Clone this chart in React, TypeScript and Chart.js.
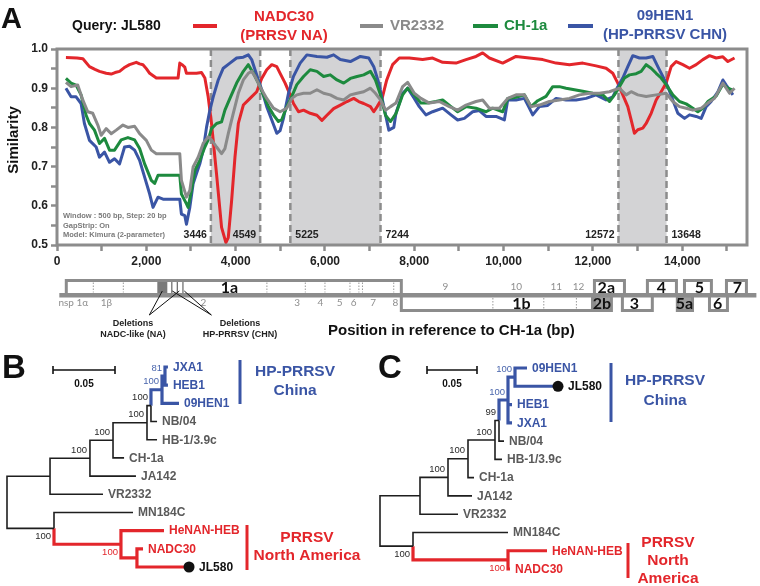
import React, { useEffect, useRef } from "react";
import { Chart, registerables } from "chart.js";

Chart.register(...registerables);

type Pt = [number, number];

// ---------------- Panel A: similarity plot data (position bp, similarity) ----------------
const NADC30_SIM: Pt[] = [
  [200, 0.978], [450, 0.977], [580, 0.975], [727, 0.955], [850, 0.948], [951, 0.943], [1101, 0.938], [1213, 0.936],
  [1300, 0.94], [1401, 0.943], [1500, 0.952], [1625, 0.96], [1775, 0.966], [1850, 0.962], [1925, 0.96], [2000, 0.95],
  [2075, 0.938], [2224, 0.926], [2711, 0.926], [2749, 0.964], [2800, 0.96], [2861, 0.954], [2899, 0.938], [3123, 0.938],
  [3236, 0.94], [3311, 0.926], [3385, 0.878], [3460, 0.81], [3573, 0.68], [3685, 0.545], [3782, 0.506], [3835, 0.519],
  [3910, 0.613], [3985, 0.724], [4060, 0.81], [4172, 0.857], [4322, 0.874], [4472, 0.891], [4584, 0.925], [4696, 0.947],
  [4809, 0.96], [4921, 0.955], [4996, 0.938], [5108, 0.913], [5221, 0.883], [5295, 0.861], [5408, 0.84], [5520, 0.844],
  [5670, 0.836], [5820, 0.831], [5932, 0.818], [6044, 0.831], [6194, 0.848], [6344, 0.857], [6494, 0.866], [6644, 0.874],
  [6756, 0.866], [6868, 0.861], [7018, 0.853], [7093, 0.84], [7168, 0.853], [7280, 0.874], [7380, 0.92], [7440, 0.938],
  [7514, 0.96], [7664, 0.977], [7888, 0.977], [8187, 0.973], [8411, 0.977], [8635, 0.966], [8934, 0.964], [9158, 0.973],
  [9382, 0.981], [9531, 0.99], [9681, 0.977], [9980, 0.964], [10278, 0.981], [10577, 0.977], [10876, 0.973], [11175, 0.964],
  [11474, 0.96], [11773, 0.964], [12071, 0.957], [12295, 0.951], [12445, 0.938], [12557, 0.913], [12669, 0.883], [12781, 0.853],
  [12856, 0.819], [12930, 0.785], [13005, 0.794], [13117, 0.798], [13192, 0.81], [13304, 0.836], [13416, 0.87], [13528, 0.891],
  [13640, 0.913], [13752, 0.955], [13864, 0.968], [14013, 0.96], [14163, 0.951], [14312, 0.96], [14462, 0.973], [14611, 0.983],
  [14760, 0.977], [14910, 0.98], [15022, 0.968], [15171, 0.977],
];

const VR2332_SIM: Pt[] = [
  [200, 0.915], [315, 0.904], [464, 0.908], [577, 0.87], [689, 0.84], [801, 0.836], [914, 0.806], [989, 0.78],
  [1101, 0.797], [1213, 0.784], [1326, 0.793], [1476, 0.806], [1588, 0.8], [1738, 0.803], [1850, 0.784], [2000, 0.767],
  [2112, 0.742], [2224, 0.733], [2749, 0.733], [2786, 0.665], [2899, 0.622], [2974, 0.639], [3048, 0.699], [3161, 0.724],
  [3273, 0.759], [3385, 0.776], [3460, 0.768], [3573, 0.75], [3685, 0.733], [3760, 0.746], [3835, 0.784], [3947, 0.836],
  [4060, 0.887], [4172, 0.921], [4284, 0.938], [4359, 0.943], [4434, 0.93], [4546, 0.904], [4696, 0.874], [4846, 0.849],
  [4996, 0.84], [5146, 0.849], [5258, 0.874], [5370, 0.883], [5520, 0.887], [5670, 0.887], [5820, 0.896], [5970, 0.887],
  [6119, 0.883], [6269, 0.874], [6419, 0.87], [6569, 0.883], [6719, 0.887], [6868, 0.891], [7018, 0.9], [7130, 0.887],
  [7243, 0.87], [7355, 0.844], [7468, 0.853], [7589, 0.862], [7739, 0.904], [7851, 0.915], [8000, 0.887], [8149, 0.874],
  [8336, 0.862], [8560, 0.866], [8784, 0.853], [8971, 0.844], [9158, 0.857], [9382, 0.866], [9531, 0.87], [9681, 0.849],
  [9905, 0.849], [10092, 0.874], [10278, 0.883], [10465, 0.883], [10615, 0.853], [10801, 0.857], [11025, 0.866], [11250, 0.87],
  [11474, 0.874], [11698, 0.883], [11922, 0.887], [12146, 0.887], [12370, 0.891], [12594, 0.9], [12744, 0.883], [12856, 0.891],
  [13005, 0.883], [13192, 0.879], [13416, 0.883], [13640, 0.887], [13789, 0.866], [13938, 0.853], [14088, 0.849], [14237, 0.844],
  [14424, 0.849], [14573, 0.862], [14723, 0.874], [14910, 0.913], [15059, 0.887], [15171, 0.9],
];

const CH1A_SIM: Pt[] = [
  [200, 0.925], [315, 0.913], [427, 0.908], [539, 0.883], [652, 0.831], [727, 0.81], [839, 0.793], [951, 0.759],
  [1064, 0.772], [1176, 0.742], [1288, 0.742], [1438, 0.768], [1588, 0.774], [1738, 0.768], [1850, 0.746], [1962, 0.707],
  [2112, 0.665], [2187, 0.657], [2262, 0.678], [2749, 0.678], [2786, 0.63], [2899, 0.605], [2936, 0.596], [3011, 0.64],
  [3086, 0.69], [3198, 0.716], [3311, 0.75], [3385, 0.768], [3460, 0.797], [3573, 0.81], [3685, 0.814], [3760, 0.844],
  [3872, 0.874], [4022, 0.913], [4172, 0.943], [4284, 0.96], [4397, 0.938], [4509, 0.913], [4621, 0.883], [4734, 0.853],
  [4846, 0.832], [4958, 0.815], [5033, 0.82], [5146, 0.853], [5258, 0.879], [5370, 0.909], [5520, 0.93], [5670, 0.947],
  [5820, 0.943], [5970, 0.93], [6119, 0.934], [6269, 0.921], [6419, 0.913], [6569, 0.925], [6719, 0.93], [6868, 0.934],
  [7018, 0.943], [7130, 0.921], [7243, 0.883], [7355, 0.831], [7468, 0.815], [7589, 0.835], [7739, 0.883], [7851, 0.9],
  [8000, 0.883], [8149, 0.862], [8299, 0.862], [8486, 0.866], [8635, 0.87], [8822, 0.853], [8971, 0.84], [9158, 0.853],
  [9382, 0.849], [9606, 0.84], [9755, 0.849], [9980, 0.84], [10092, 0.874], [10278, 0.877], [10465, 0.883], [10615, 0.853],
  [10764, 0.868], [10950, 0.879], [11100, 0.904], [11250, 0.904], [11399, 0.9], [11586, 0.896], [11773, 0.892], [11997, 0.887],
  [12221, 0.883], [12370, 0.866], [12482, 0.883], [12594, 0.904], [12706, 0.926], [12819, 0.934], [12968, 0.937], [13080, 0.943],
  [13192, 0.96], [13304, 0.951], [13416, 0.938], [13528, 0.926], [13640, 0.909], [13789, 0.883], [13938, 0.866], [14088, 0.86],
  [14237, 0.849], [14349, 0.84], [14461, 0.849], [14573, 0.866], [14760, 0.88], [14910, 0.91], [15022, 0.9], [15134, 0.895],
];

const HEN1_SIM: Pt[] = [
  [200, 0.9], [315, 0.878], [427, 0.878], [539, 0.861], [614, 0.81], [727, 0.767], [876, 0.75], [951, 0.724],
  [1064, 0.737], [1176, 0.711], [1288, 0.72], [1401, 0.707], [1513, 0.75], [1625, 0.752], [1738, 0.742], [1850, 0.716],
  [1962, 0.673], [2075, 0.63], [2150, 0.596], [2262, 0.622], [2374, 0.617], [2749, 0.617], [2786, 0.579], [2861, 0.575],
  [2899, 0.553], [2974, 0.596], [3048, 0.656], [3123, 0.682], [3198, 0.707], [3273, 0.742], [3348, 0.8], [3423, 0.844],
  [3498, 0.878], [3610, 0.921], [3723, 0.951], [3872, 0.964], [4022, 0.977], [4172, 0.979], [4284, 0.985], [4359, 0.973],
  [4434, 0.947], [4509, 0.921], [4584, 0.896], [4696, 0.853], [4809, 0.819], [4921, 0.785], [4996, 0.792], [5071, 0.823],
  [5183, 0.887], [5295, 0.93], [5445, 0.964], [5595, 0.985], [5820, 0.981], [6044, 0.979], [6194, 0.985], [6344, 0.973],
  [6569, 0.968], [6793, 0.981], [6981, 0.977], [7093, 0.955], [7205, 0.913], [7318, 0.853], [7430, 0.793], [7542, 0.8],
  [7589, 0.836], [7739, 0.887], [7851, 0.9], [8000, 0.874], [8112, 0.853], [8261, 0.832], [8411, 0.84], [8635, 0.849],
  [8822, 0.832], [8971, 0.819], [9121, 0.823], [9307, 0.84], [9457, 0.843], [9606, 0.828], [9830, 0.828], [10017, 0.819],
  [10092, 0.87], [10278, 0.87], [10465, 0.874], [10577, 0.849], [10652, 0.832], [10801, 0.853], [10988, 0.856], [11175, 0.874],
  [11399, 0.87], [11623, 0.87], [11847, 0.874], [12071, 0.883], [12295, 0.87], [12445, 0.878], [12557, 0.904], [12669, 0.926],
  [12781, 0.955], [12893, 0.983], [13042, 0.977], [13192, 0.977], [13341, 0.981], [13453, 0.955], [13565, 0.93], [13677, 0.904],
  [13789, 0.87], [13901, 0.836], [14051, 0.823], [14163, 0.832], [14312, 0.828], [14424, 0.823], [14536, 0.853], [14648, 0.866],
  [14798, 0.891], [14910, 0.921], [14984, 0.908], [15059, 0.896], [15134, 0.883],
];

const X_TICKS = [0, 1000, 2000, 3000, 4000, 5000, 6000, 7000, 8000, 9000, 10000, 11000, 12000, 13000, 14000, 15000];
const Y_TICKS = [0.5, 0.55, 0.6, 0.65, 0.7, 0.75, 0.8, 0.85, 0.9, 0.95, 1.0];
const BREAKPOINTS = [3446, 4549, 5225, 7244, 12572, 13648];
const BREAK_LABEL_LEFT = [true, true, false, false, true, false];
const SHADED_REGIONS: Pt[] = [[3446, 4549], [5225, 7244], [12572, 13648]];
const ANNOTATION = ["Window : 500 bp, Step: 20 bp", "GapStrip: On", "Model: Kimura (2-parameter)"];

// ---------------- Genome map (positions in nt, drawn through the x scale) ----------------
const GENOME_SPAN: Pt = [52, 15660];
const ORF_NAMES = ["1a", "1b", "2a", "2b", "3", "4", "5a", "5", "6", "7"];
const ORF_START = [208, 7710, 12034, 12034, 12660, 13220, 13890, 14050, 14610, 14990];
const ORF_END = [7710, 11990, 12706, 12414, 13330, 13870, 14230, 14653, 15012, 15437];
const ORF_LABEL_AT = [3860, 10400, 12300, 12200, 12930, 13534, 14050, 14385, 14790, 15236];
const ORF_ABOVE = [true, false, true, false, false, true, false, true, false, true];
const ORF_FILLED = [false, false, false, true, false, false, true, false, false, false];
const NSP_DIVIDERS_1A = [813, 1485, 4700, 5560, 6000, 6560, 6760, 6840, 7540];
const NSP_DIVIDERS_1B = [9760, 10900, 11630];
const DELETION_BLOCK: Pt = [2246, 2470];
const DELETION_LINES = [2571, 2694, 2820];
const NSP_LABELS_BELOW = ["nsp 1α", "1β", "2", "3", "4", "5", "6", "7", "8"];
const NSP_BELOW_AT = [365, 1105, 3276, 5380, 5900, 6330, 6640, 7080, 7575];
const NSP_LABELS_ABOVE = ["9", "10", "11", "12"];
const NSP_ABOVE_AT = [8696, 10286, 11180, 11676];
const DEL_NA_TARGETS = [2358, 2739];
const DEL_CHN_TARGETS = [2582, 2851];
const DEL_NA_APEX = 2068;
const DEL_CHN_APEX = 3457;

// ---------------- Trees ----------------
type TreeNode = {
  id: string;
  parent: string | null;
  dist: number;
  row?: number;
  branch: "k" | "b" | "r";
  support?: string;
  supportBelow?: boolean;
  labelColor?: string;
  dot?: boolean;
};

const TREE_B_NODES: TreeNode[] = [
  { id: "rB", parent: null, dist: 0, branch: "k" },
  { id: "bA", parent: "rB", dist: 0.0347, branch: "k" },
  { id: "bB", parent: "bA", dist: 0.0669, branch: "k", support: "100" },
  { id: "bC", parent: "bB", dist: 0.0855, branch: "k", support: "100" },
  { id: "bD", parent: "bC", dist: 0.1129, branch: "k", support: "100" },
  { id: "bE", parent: "bD", dist: 0.1161, branch: "k", support: "100" },
  { id: "bF", parent: "bE", dist: 0.125, branch: "b", support: "100" },
  { id: "bG", parent: "bF", dist: 0.1274, branch: "b", support: "81" },
  { id: "bM", parent: "rB", dist: 0.0379, branch: "k", support: "100", supportBelow: true },
  { id: "bN", parent: "bM", dist: 0.0919, branch: "r", support: "100", supportBelow: true },
  { id: "bO", parent: "bN", dist: 0.1048, branch: "r" },
  { id: "JXA1", parent: "bG", dist: 0.1298, row: 0, branch: "b" },
  { id: "HEB1", parent: "bG", dist: 0.1298, row: 1, branch: "b" },
  { id: "09HEN1", parent: "bF", dist: 0.1387, row: 2, branch: "b" },
  { id: "NB/04", parent: "bE", dist: 0.121, row: 3, branch: "k" },
  { id: "HB-1/3.9c", parent: "bD", dist: 0.121, row: 4, branch: "k" },
  { id: "CH-1a", parent: "bC", dist: 0.0944, row: 5, branch: "k" },
  { id: "JA142", parent: "bB", dist: 0.104, row: 6, branch: "k" },
  { id: "VR2332", parent: "bA", dist: 0.0774, row: 7, branch: "k" },
  { id: "MN184C", parent: "bM", dist: 0.1016, row: 8, branch: "k" },
  { id: "HeNAN-HEB", parent: "bN", dist: 0.1266, row: 9, branch: "r" },
  { id: "NADC30", parent: "bO", dist: 0.1097, row: 10, branch: "r" },
  { id: "JL580", parent: "bO", dist: 0.1468, row: 11, branch: "r", labelColor: "#111", dot: true },
];

const TREE_C_NODES: TreeNode[] = [
  { id: "rC", parent: null, dist: 0, branch: "k" },
  { id: "cA", parent: "rC", dist: 0.04, branch: "k" },
  { id: "cB", parent: "cA", dist: 0.068, branch: "k", support: "100" },
  { id: "cC", parent: "cB", dist: 0.088, branch: "k", support: "100" },
  { id: "cD", parent: "cC", dist: 0.115, branch: "k", support: "100" },
  { id: "cE", parent: "cD", dist: 0.119, branch: "k", support: "99" },
  { id: "cF", parent: "cE", dist: 0.128, branch: "b", support: "100" },
  { id: "cG", parent: "cF", dist: 0.135, branch: "b", support: "100" },
  { id: "cM", parent: "rC", dist: 0.033, branch: "k", support: "100", supportBelow: true },
  { id: "cN", parent: "cM", dist: 0.128, branch: "r", support: "100", supportBelow: true },
  { id: "09HEN1", parent: "cG", dist: 0.147, row: 0, branch: "b" },
  { id: "JL580", parent: "cG", dist: 0.178, row: 1, branch: "b", labelColor: "#111", dot: true },
  { id: "HEB1", parent: "cF", dist: 0.132, row: 2, branch: "b" },
  { id: "JXA1", parent: "cF", dist: 0.132, row: 3, branch: "b" },
  { id: "NB/04", parent: "cE", dist: 0.124, row: 4, branch: "k" },
  { id: "HB-1/3.9c", parent: "cD", dist: 0.122, row: 5, branch: "k" },
  { id: "CH-1a", parent: "cC", dist: 0.094, row: 6, branch: "k" },
  { id: "JA142", parent: "cB", dist: 0.092, row: 7, branch: "k" },
  { id: "VR2332", parent: "cA", dist: 0.078, row: 8, branch: "k" },
  { id: "MN184C", parent: "cM", dist: 0.128, row: 9, branch: "k" },
  { id: "HeNAN-HEB", parent: "cN", dist: 0.167, row: 10, branch: "r" },
  { id: "NADC30", parent: "cN", dist: 0.13, row: 11, branch: "r" },
];

const SCALE_BAR_LEN = 0.05;

// ---------------- Styles ----------------
const FONT = "'Liberation Sans', Arial, Helvetica, sans-serif";
const RED = "#e3262b";
const BLUE = "#3a55a5";
const GREEN = "#1d8a3e";
const GRAY = "#8a8a8a";
const FRAME = "#8c8c8c";
const SHADE = "#d3d3d5";
const TIP_GRAY = "#5a5a5a";
const BRANCH_COLORS: Record<string, string> = { k: "#1e1e1e", b: BLUE, r: RED };

function text(ctx: CanvasRenderingContext2D, s: string, x: number, y: number, font: string, color: string, align: CanvasTextAlign = "left", baseline: CanvasTextBaseline = "middle") {
  ctx.font = font;
  ctx.fillStyle = color;
  ctx.textAlign = align;
  ctx.textBaseline = baseline;
  ctx.fillText(s, x, y);
}

function line(ctx: CanvasRenderingContext2D, x1: number, y1: number, x2: number, y2: number) {
  ctx.beginPath();
  ctx.moveTo(x1, y1);
  ctx.lineTo(x2, y2);
  ctx.stroke();
}

const panelAPlugin = {
  id: "panelA",
  beforeDatasetsDraw(chart: any) {
    const { ctx, chartArea: ca } = chart;
    const X = (v: number) => chart.scales.x.getPixelForValue(v);
    ctx.save();
    ctx.fillStyle = SHADE;
    for (const [a, b] of SHADED_REGIONS) ctx.fillRect(X(a), ca.top, X(b) - X(a), ca.bottom - ca.top);
    ctx.strokeStyle = FRAME;
    ctx.lineWidth = 2.5;
    ctx.setLineDash([7, 4]);
    for (const bp of BREAKPOINTS) line(ctx, X(bp), ca.top, X(bp), ca.bottom);
    ctx.setLineDash([]);
    BREAKPOINTS.forEach((bp, i) => {
      const left = BREAK_LABEL_LEFT[i];
      text(ctx, String(bp), X(bp) + (left ? -4 : 5), ca.bottom - 10, `bold 10.5px ${FONT}`, "#222", left ? "right" : "left");
    });
    ANNOTATION.forEach((s, i) => text(ctx, s, ca.left + 6, ca.bottom - 29 + i * 9.5, `bold 7.5px ${FONT}`, "#7a7a7a"));
    ctx.restore();
  },
  afterDraw(chart: any) {
    const { ctx, chartArea: ca } = chart;
    const X = (v: number) => chart.scales.x.getPixelForValue(v);
    ctx.save();
    // frame
    ctx.strokeStyle = FRAME;
    ctx.lineWidth = 3;
    ctx.strokeRect(ca.left, ca.top, ca.right - ca.left, ca.bottom - ca.top);

    // panel letter and header
    text(ctx, "A", 1, 28, `bold 29px ${FONT}`, "#111", "left", "alphabetic");
    text(ctx, "Query: JL580", 72, 26, `bold 14px ${FONT}`, "#111");
    const legend = [
      { c: RED, x1: 193, x2: 217, lines: ["NADC30", "(PRRSV NA)"], tx: 284, ys: [17, 36], align: "center" },
      { c: GRAY, x1: 360, x2: 383, lines: ["VR2332"], tx: 390, ys: [26], align: "left" },
      { c: GREEN, x1: 473, x2: 498, lines: ["CH-1a"], tx: 504, ys: [26], align: "left" },
      { c: BLUE, x1: 568, x2: 593, lines: ["09HEN1", "(HP-PRRSV CHN)"], tx: 665, ys: [16, 35], align: "center" },
    ];
    for (const it of legend) {
      ctx.strokeStyle = it.c;
      ctx.lineWidth = 4;
      line(ctx, it.x1, 26, it.x2, 26);
      it.lines.forEach((s, i) => text(ctx, s, it.tx, it.ys[i], `bold 15px ${FONT}`, it.c, it.align as CanvasTextAlign));
    }

    // y title
    ctx.save();
    ctx.translate(14, 140);
    ctx.rotate(-Math.PI / 2);
    text(ctx, "Similarity", 0, 0, `bold 15px ${FONT}`, "#111", "center");
    ctx.restore();

    // genome map
    const lineTop = 293;
    const lineH = 4.5;
    ctx.lineWidth = 3;
    ctx.strokeStyle = FRAME;
    ORF_NAMES.forEach((_, i) => {
      const x1 = X(ORF_START[i]);
      const x2 = X(ORF_END[i]);
      const y0 = ORF_ABOVE[i] ? 280.5 : 295;
      const h = ORF_ABOVE[i] ? 14.5 : 15.5;
      ctx.fillStyle = ORF_FILLED[i] ? "#9d9d9d" : "#fff";
      ctx.fillRect(x1, y0, x2 - x1, h);
      ctx.strokeRect(x1, y0, x2 - x1, h);
    });
    ctx.strokeStyle = "#9a9a9a";
    ctx.lineWidth = 1;
    ctx.setLineDash([1.5, 1.5]);
    for (const nt of NSP_DIVIDERS_1A) line(ctx, X(nt), 282.5, X(nt), 292.5);
    for (const nt of NSP_DIVIDERS_1B) line(ctx, X(nt), 298, X(nt), 308.5);
    ctx.setLineDash([]);
    ctx.fillStyle = "#7a7a7a";
    ctx.fillRect(X(DELETION_BLOCK[0]), 282, X(DELETION_BLOCK[1]) - X(DELETION_BLOCK[0]), 11);
    ctx.strokeStyle = "#666";
    ctx.lineWidth = 1.2;
    for (const nt of DELETION_LINES) line(ctx, X(nt), 282, X(nt), 293);
    ctx.fillStyle = FRAME;
    ctx.fillRect(X(GENOME_SPAN[0]), lineTop, X(GENOME_SPAN[1]) - X(GENOME_SPAN[0]), lineH);
    ORF_NAMES.forEach((s, i) => {
      text(ctx, s, X(ORF_LABEL_AT[i]), ORF_ABOVE[i] ? 287.5 : 304, `bold 16px Lato, ${FONT}`, "#111", "center");
    });
    NSP_LABELS_BELOW.forEach((s, i) => text(ctx, s, X(NSP_BELOW_AT[i]), 302.5, `10px Lato, ${FONT}`, "#8f8f8f", "center"));
    NSP_LABELS_ABOVE.forEach((s, i) => text(ctx, s, X(NSP_ABOVE_AT[i]), 286.5, `10px Lato, ${FONT}`, "#8f8f8f", "center"));

    ctx.strokeStyle = "#111";
    ctx.lineWidth = 1;
    for (const t of DEL_NA_TARGETS) line(ctx, X(DEL_NA_APEX), 315, X(t), 291);
    for (const t of DEL_CHN_TARGETS) line(ctx, X(DEL_CHN_APEX), 315, X(t), 291);
    text(ctx, "Deletions", 133, 324, `bold 9px ${FONT}`, "#222", "center");
    text(ctx, "NADC-like (NA)", 133, 335, `bold 9px ${FONT}`, "#222", "center");
    text(ctx, "Deletions", 240, 324, `bold 9px ${FONT}`, "#222", "center");
    text(ctx, "HP-PRRSV (CHN)", 240, 335, `bold 9px ${FONT}`, "#222", "center");

    text(ctx, "Position in reference to CH-1a (bp)", 328, 331, `bold 15px ${FONT}`, "#111", "left");
    ctx.restore();
  },
};

function lineDataset(points: Pt[], color: string) {
  return {
    data: points.map(([x, y]) => ({ x, y })),
    borderColor: color,
    borderWidth: 3,
    pointRadius: 0,
    pointHoverRadius: 0,
    fill: false,
    tension: 0,
    borderJoinStyle: "round",
  };
}

function configA(): any {
  const tickFont = { family: FONT, size: 12, weight: "bold" };
  const gridOpts = () => ({ display: true, drawOnChartArea: false, drawTicks: true, tickLength: 6, tickColor: FRAME, tickWidth: 2.5, color: FRAME });
  return {
    type: "line",
    data: {
      datasets: [
        lineDataset(VR2332_SIM, GRAY),
        lineDataset(CH1A_SIM, GREEN),
        lineDataset(HEN1_SIM, BLUE),
        lineDataset(NADC30_SIM, RED),
      ],
    },
    options: {
      responsive: false,
      animation: false,
      events: [],
      layout: { padding: { left: 0, top: 49, right: 13, bottom: 70 } },
      plugins: { legend: { display: false }, tooltip: { enabled: false }, title: { display: false } },
      scales: {
        x: {
          type: "linear",
          min: 0,
          max: 15450,
          afterFit: (s: any) => { s.height = 30; },
          afterBuildTicks: (s: any) => { s.ticks = X_TICKS.map((value) => ({ value })); },
          border: { display: false },
          grid: gridOpts(),
          ticks: {
            autoSkip: false,
            maxRotation: 0,
            minRotation: 0,
            padding: 3,
            color: "#222",
            font: tickFont,
            callback: (v: number) => (Math.round(v) % 2000 === 0 ? Math.round(v).toLocaleString("en-US") : ""),
          },
        },
        y: {
          type: "linear",
          min: 0.5,
          max: 1.0,
          afterFit: (s: any) => { s.width = 57; },
          afterBuildTicks: (s: any) => { s.ticks = Y_TICKS.map((value) => ({ value })); },
          border: { display: false },
          grid: gridOpts(),
          ticks: {
            autoSkip: false,
            padding: 3,
            color: "#222",
            font: tickFont,
            callback: (v: number) => (Math.round(v * 100) % 10 === 0 ? v.toFixed(1) : ""),
          },
        },
      },
    },
    plugins: [panelAPlugin],
  };
}

type Deco = {
  offX: number;
  offY: number;
  letter: string;
  letterX: number;
  letterY: number;
  scaleStart: number;
  scaleY: number;
  xMax: number;
  padding: { left: number; right: number; top: number; bottom: number };
  clades: { color: string; barX: number; y1: number; y2: number; tx: number; lines: string[]; ys: number[] }[];
};

const DECO_B: Deco = {
  offX: 0,
  offY: 345,
  letter: "B",
  letterX: 2,
  letterY: 378,
  scaleStart: 0.0371,
  scaleY: 370,
  xMax: 0.3,
  padding: { left: 7, right: 1, top: 22, bottom: 19 },
  clades: [
    { color: BLUE, barX: 240, y1: 360, y2: 404, tx: 295, lines: ["HP-PRRSV", "China"], ys: [372, 391] },
    { color: RED, barX: 247, y1: 525, y2: 570, tx: 307, lines: ["PRRSV", "North America"], ys: [538, 556] },
  ],
};

const DECO_C: Deco = {
  offX: 370,
  offY: 345,
  letter: "C",
  letterX: 378,
  letterY: 378,
  scaleStart: 0.047,
  scaleY: 370,
  xMax: 0.38,
  padding: { left: 10, right: 0, top: 23, bottom: 17 },
  clades: [
    { color: BLUE, barX: 611, y1: 363, y2: 422, tx: 665, lines: ["HP-PRRSV", "China"], ys: [381, 401] },
    { color: RED, barX: 628, y1: 543, y2: 578, tx: 668, lines: ["PRRSV", "North", "America"], ys: [543, 561, 579] },
  ],
};

function layoutTree(nodes: TreeNode[]) {
  const byId = new Map(nodes.map((n) => [n.id, n] as [string, TreeNode]));
  const kids = new Map<string, TreeNode[]>();
  nodes.forEach((n) => {
    if (n.parent) {
      if (!kids.has(n.parent)) kids.set(n.parent, []);
      kids.get(n.parent)!.push(n);
    }
  });
  const yPos = new Map<string, number>();
  const yOf = (n: TreeNode): number => {
    if (yPos.has(n.id)) return yPos.get(n.id)!;
    let y: number;
    if (n.row !== undefined) y = n.row;
    else {
      const ys = kids.get(n.id)!.map(yOf);
      y = (Math.min(...ys) + Math.max(...ys)) / 2;
    }
    yPos.set(n.id, y);
    return y;
  };
  nodes.forEach(yOf);
  const segs: Record<string, { x: number; y: number | null }[]> = { k: [], r: [], b: [] };
  nodes.forEach((n) => {
    if (!n.parent) return;
    const p = byId.get(n.parent)!;
    segs[n.branch].push(
      { x: p.dist, y: yOf(p) },
      { x: p.dist, y: yOf(n) },
      { x: n.dist, y: yOf(n) },
      { x: n.dist, y: null }
    );
  });
  return { yPos, segs };
}

function treeConfig(nodes: TreeNode[], deco: Deco): any {
  const { yPos, segs } = layoutTree(nodes);
  const plugin = {
    id: "tree" + deco.letter,
    afterDatasetsDraw(chart: any) {
      const { ctx } = chart;
      const X = (v: number) => chart.scales.x.getPixelForValue(v);
      const Y = (v: number) => chart.scales.y.getPixelForValue(v);
      const ox = deco.offX;
      const oy = deco.offY;
      ctx.save();
      nodes.forEach((n) => {
        const px = X(n.dist);
        const py = Y(yPos.get(n.id)!);
        if (n.row !== undefined) {
          const color = n.labelColor || (n.branch === "b" ? BLUE : n.branch === "r" ? RED : TIP_GRAY);
          if (n.dot) {
            ctx.fillStyle = "#111";
            ctx.beginPath();
            ctx.arc(px, py, 5.5, 0, Math.PI * 2);
            ctx.fill();
          }
          text(ctx, n.id, px + (n.dot ? 10 : 5), py + 0.5, `bold 12px ${FONT}`, color);
        } else if (n.support) {
          const sc = n.branch === "b" ? "#4a66ad" : n.branch === "r" ? RED : "#2a2a2a";
          text(ctx, n.support, px - 3, py + (n.supportBelow ? 8.5 : -8), `9.5px ${FONT}`, sc, "right");
        }
      });
      text(ctx, deco.letter, deco.letterX - ox, deco.letterY - oy, `bold 33px ${FONT}`, "#111", "left", "alphabetic");
      const s1 = X(deco.scaleStart);
      const s2 = X(deco.scaleStart + SCALE_BAR_LEN);
      const sy = deco.scaleY - oy;
      ctx.strokeStyle = "#111";
      ctx.lineWidth = 1.6;
      line(ctx, s1, sy, s2, sy);
      line(ctx, s1, sy - 4, s1, sy + 4);
      line(ctx, s2, sy - 4, s2, sy + 4);
      text(ctx, "0.05", (s1 + s2) / 2, sy + 14, `bold 10px ${FONT}`, "#111", "center");
      for (const c of deco.clades) {
        ctx.strokeStyle = c.color;
        ctx.lineWidth = 3;
        line(ctx, c.barX - ox, c.y1 - oy, c.barX - ox, c.y2 - oy);
        c.lines.forEach((s, i) => text(ctx, s, c.tx - ox, c.ys[i] - oy, `bold 15.5px ${FONT}`, c.color, "center"));
      }
      ctx.restore();
    },
  };
  return {
    type: "scatter",
    data: {
      datasets: (["k", "r", "b"] as const).map((c) => ({
        data: segs[c],
        showLine: true,
        spanGaps: false,
        borderColor: BRANCH_COLORS[c],
        backgroundColor: BRANCH_COLORS[c],
        borderWidth: c === "k" ? 1.6 : 3.2,
        pointRadius: 0,
        pointHoverRadius: 0,
        borderJoinStyle: "miter",
        borderCapStyle: "butt",
        tension: 0,
        clip: false,
      })),
    },
    options: {
      responsive: false,
      animation: false,
      events: [],
      layout: { padding: deco.padding },
      plugins: { legend: { display: false }, tooltip: { enabled: false } },
      scales: {
        x: { type: "linear", display: false, min: 0, max: deco.xMax },
        y: { type: "linear", display: false, min: 0, max: 11, reverse: true },
      },
    },
    plugins: [plugin],
  };
}

export default function App() {
  const aRef = useRef<HTMLCanvasElement>(null);
  const bRef = useRef<HTMLCanvasElement>(null);
  const cRef = useRef<HTMLCanvasElement>(null);
  useEffect(() => {
    const charts = [
      new Chart(aRef.current!, configA()),
      new Chart(bRef.current!, treeConfig(TREE_B_NODES, DECO_B)),
      new Chart(cRef.current!, treeConfig(TREE_C_NODES, DECO_C)),
    ];
    return () => charts.forEach((c) => c.destroy());
  }, []);
  const abs = (l: number, t: number, w: number, h: number): React.CSSProperties => ({
    position: "absolute", left: l, top: t, width: w, height: h, display: "block",
  });
  return (
    <div style={{ position: "fixed", left: 0, top: 0, width: 760, height: 586, background: "#fff", overflow: "hidden" }}>
      <canvas ref={aRef} width={760} height={345} style={abs(0, 0, 760, 345)} />
      <canvas ref={bRef} width={380} height={241} style={abs(0, 345, 380, 241)} />
      <canvas ref={cRef} width={390} height={241} style={abs(370, 345, 390, 241)} />
    </div>
  );
}
